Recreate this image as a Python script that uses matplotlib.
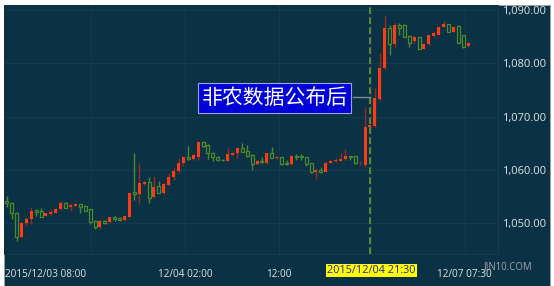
import matplotlib.pyplot as plt
from matplotlib.transforms import blended_transform_factory

bg = "#0b3144"
grid_col = "#163b4e"
up_col = "#fa3c14"
up_wick = "#9a2a1c"
down_col = "#4b8a2c"

opens = [1054.2, 1053.9, 1052.0, 1047.4, 1050.0, 1050.8, 1052.5, 1052.3, 1051.4, 1051.75,
         1052.0, 1052.6, 1053.9, 1053.0, 1053.3, 1053.6, 1053.25, 1052.6, 1050.5, 1049.25,
         1050.5, 1050.2, 1051.1, 1051.0, 1050.6, 1051.25, 1055.9, 1055.5, 1057.4, 1057.8,
         1054.9, 1057.0, 1055.75, 1057.2, 1058.6, 1059.9, 1061.25, 1062.5, 1062.1, 1062.5,
         1065.3, 1064.7, 1063.25, 1062.5, 1061.9, 1061.75, 1062.9, 1063.25, 1064.1, 1063.6,
         1062.8, 1061.1, 1061.7, 1061.4, 1063.1, 1062.3, 1062.4, 1061.3, 1061.1, 1062.7,
         1062.6, 1062.4, 1061.25, 1059.7, 1060.0, 1059.7, 1061.4, 1061.6, 1061.75, 1062.0,
         1062.6, 1062.6, 1061.25, 1061.0, 1068.0, 1068.25, 1073.4, 1079.2, 1086.6, 1083.6,
         1087.2, 1087.2, 1085.1, 1084.1, 1084.9, 1082.7, 1083.6, 1085.2, 1085.4, 1086.9,
         1087.3, 1085.9, 1087.0, 1085.3, 1083.25]
closes = [1053.8, 1051.9, 1047.4, 1050.0, 1050.8, 1052.4, 1052.1, 1051.25, 1051.9, 1052.2,
          1052.75, 1053.75, 1052.9, 1053.4, 1053.6, 1053.1, 1052.4, 1050.3, 1049.25, 1050.5,
          1050.1, 1051.1, 1050.75, 1050.6, 1051.4, 1055.75, 1055.5, 1057.5, 1057.8, 1054.7,
          1056.9, 1055.75, 1057.4, 1058.6, 1059.9, 1061.25, 1062.5, 1062.1, 1062.75, 1065.3,
          1064.55, 1063.25, 1062.4, 1061.9, 1061.8, 1063.0, 1063.25, 1064.1, 1063.4, 1062.7,
          1061.1, 1061.7, 1061.5, 1063.1, 1062.3, 1062.5, 1061.1, 1061.1, 1062.6, 1062.5,
          1062.4, 1061.1, 1059.7, 1060.0, 1059.7, 1061.4, 1061.75, 1061.8, 1062.1, 1062.6,
          1062.4, 1061.25, 1061.4, 1068.1, 1068.4, 1073.55, 1079.2, 1086.6, 1083.6, 1087.2,
          1086.6, 1085.0, 1083.9, 1084.9, 1082.7, 1083.6, 1085.3, 1085.6, 1086.9, 1087.4,
          1085.9, 1086.9, 1083.9, 1083.1, 1083.9]
highs = [1055.1, 1054.0, 1052.2, 1050.2, 1051.1, 1053.1, 1052.6, 1052.8, 1052.0, 1052.6,
         1052.9, 1054.1, 1054.0, 1053.6, 1053.8, 1053.7, 1053.4, 1052.7, 1050.6, 1050.7,
         1050.6, 1051.2, 1051.3, 1051.1, 1051.5, 1055.9, 1063.1, 1061.25, 1058.0, 1058.6,
         1058.9, 1057.9, 1057.6, 1059.5, 1060.3, 1062.2, 1062.6, 1064.5, 1063.0, 1065.4,
         1065.5, 1064.9, 1063.4, 1062.7, 1062.0, 1064.1, 1063.4, 1064.2, 1065.0, 1064.7,
         1063.0, 1061.9, 1062.5, 1063.2, 1064.25, 1062.6, 1062.5, 1061.8, 1062.8, 1063.0,
         1063.0, 1062.5, 1061.3, 1060.1, 1060.6, 1061.5, 1061.9, 1062.2, 1063.1, 1063.9,
         1062.7, 1062.7, 1061.6, 1071.75, 1068.6, 1075.3, 1081.9, 1088.9, 1087.2, 1087.5,
         1087.6, 1087.4, 1085.3, 1085.1, 1085.0, 1083.7, 1085.4, 1085.8, 1087.0, 1087.9,
         1087.4, 1087.0, 1087.2, 1085.4, 1084.0]
lows = [1053.0, 1050.75, 1046.6, 1047.2, 1049.55, 1049.9, 1051.4, 1051.2, 1051.3, 1051.5,
        1051.9, 1052.5, 1052.8, 1052.25, 1053.2, 1052.0, 1052.3, 1049.9, 1049.0, 1049.0,
        1049.8, 1050.1, 1050.5, 1050.5, 1050.5, 1051.2, 1054.4, 1053.7, 1057.2, 1053.9,
        1054.7, 1055.6, 1055.5, 1057.0, 1058.1, 1059.4, 1060.8, 1061.9, 1061.9, 1061.8,
        1064.3, 1062.0, 1061.6, 1061.6, 1061.7, 1061.6, 1062.8, 1062.2, 1063.3, 1062.5,
        1060.0, 1060.9, 1061.4, 1061.2, 1062.2, 1062.0, 1061.0, 1061.0, 1061.0, 1061.9,
        1061.8, 1060.75, 1059.4, 1058.25, 1059.4, 1059.6, 1061.3, 1061.5, 1061.6, 1061.9,
        1061.8, 1061.1, 1061.0, 1060.6, 1067.8, 1068.0, 1073.0, 1079.0, 1081.6, 1083.1,
        1085.4, 1084.9, 1083.1, 1083.9, 1082.6, 1082.6, 1083.5, 1085.1, 1085.3, 1086.8,
        1085.8, 1085.8, 1083.8, 1082.8, 1083.2]

tick_pos = [17.1, 36.3, 55.4, 74.2, 93.3]
tick_labels = ["2015/12/03 08:00", "12/04 02:00", "12:00", "", "12/07 07:30"]
yticks = [1050, 1060, 1070, 1080, 1090]
nfp_idx = 74
nfp_label = "2015/12/04 21:30"
note = "非农数据公布后"

W, H = 554, 286
fig = plt.figure(figsize=(W / 100, H / 100), dpi=100, facecolor="white")
fig.patches.append(plt.Rectangle((4 / W, 0), 546 / W, 281 / H, transform=fig.transFigure,
                                 facecolor=bg, edgecolor="#9aa4aa", lw=0.6, zorder=-10))
ax = fig.add_axes([4 / W, (H - 254) / H, 494 / W, 249 / H])
ax.set_facecolor(bg)

n = len(opens)
xs = list(range(n))
up_x = [i for i in xs if closes[i] >= opens[i]]
dn_x = [i for i in xs if closes[i] < opens[i]]

# wicks
ax.vlines(up_x, [lows[i] for i in up_x], [highs[i] for i in up_x], color=up_wick, lw=1, zorder=2)
ax.vlines(dn_x, [lows[i] for i in dn_x], [highs[i] for i in dn_x], color=down_col, lw=1, zorder=2)

# bodies
bw = 0.62
ax.bar(up_x, [max(closes[i] - opens[i], 0.15) for i in up_x], bottom=[opens[i] for i in up_x],
       width=bw, color=up_col, lw=0, zorder=3)
ax.bar(dn_x, [max(opens[i] - closes[i], 0.15) for i in dn_x], bottom=[closes[i] for i in dn_x],
       width=bw, facecolor=bg, edgecolor=down_col, lw=0.9, zorder=3)

ax.axvline(nfp_idx, color="#6f9a2e", lw=1.2, dashes=(4, 2), zorder=4)

ax.set_xlim(-0.55, 100.08)
ax.set_ylim(1044.25, 1090.94)

ax.set_xticks(tick_pos)
ax.tick_params(axis="x", length=0, labelbottom=False)
ax.set_yticks(yticks)
ax.set_yticklabels([f"{v:,.2f}" for v in yticks], fontsize=8, color="#dde3e6", family="Open Sans")
ax.yaxis.tick_right()
ax.tick_params(axis="y", length=0, pad=3)
ax.grid(True, color=grid_col, lw=0.7)
for s in ["top", "left"]:
    ax.spines[s].set_visible(False)
for s in ["right", "bottom"]:
    ax.spines[s].set_color(grid_col)

tr = blended_transform_factory(ax.transData, ax.transAxes)
ax.text(-0.3, -0.082, tick_labels[0], transform=tr, ha="left", va="center",
        fontsize=7.2, color="#dde3e6", family="Open Sans", clip_on=False)
for p, lab in zip(tick_pos[1:], tick_labels[1:]):
    if lab:
        ax.text(p, -0.082, lab, transform=tr, ha="center", va="center",
                fontsize=7.2, color="#dde3e6", family="Open Sans", clip_on=False)

ax.text(nfp_idx + 0.3, -0.066, nfp_label, transform=tr, ha="center", va="center",
        fontsize=7.8, color="#2424b0", family="Open Sans", clip_on=False, zorder=10,
        bbox=dict(boxstyle="square,pad=0.1", fc="#ffff00", ec="none"))

fig.text(508 / W, 1 - 267 / H, "JIN10.COM", ha="center", va="center",
         fontsize=6.9, color="#9ea7ad", family="Open Sans")

# note box and connector
ax.plot([70.5, nfp_idx], [1073.6, 1073.6], color="#7d8a94", lw=1, zorder=4)
ax.text(54.6, 1073.5, note, ha="center", va="center", fontsize=15, color="white",
        family=["Noto Sans CJK SC", "DejaVu Sans"], zorder=6,
        bbox=dict(boxstyle="square,pad=0.17", fc="#0000d8", ec="#a0a4e0", lw=0.8))

fig.savefig("out.png", dpi=100, facecolor="white")
